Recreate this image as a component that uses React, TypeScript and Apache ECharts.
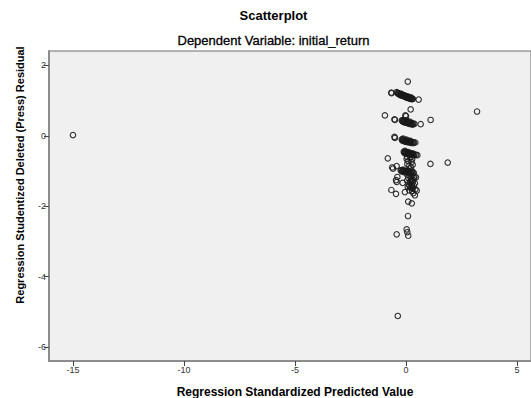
import React, { useEffect, useRef } from "react";
import * as echarts from "echarts";

const titleText = "Scatterplot";
const subtitleText = "Dependent Variable: initial_return";
const xAxisTitle = "Regression Standardized Predicted Value";
const yAxisTitle = "Regression Studentized Deleted (Press) Residual";

const xTicks = [-15, -10, -5, 0, 5];
const yTicks = [-6, -4, -2, 0, 2];

// [standardized predicted value, studentized deleted residual]
const topPoints: number[][] = [
  [0.08, 1.54], [-0.66, 1.23], [-0.65, 1.21], [0.57, 1.03],
  [-0.42, 1.24], [-0.38, 1.22], [-0.33, 1.21], [-0.29, 1.19], [-0.26, 1.18], [-0.22, 1.17],
  [-0.18, 1.16], [-0.15, 1.16], [-0.11, 1.14], [-0.08, 1.14], [-0.04, 1.12], [-0.01, 1.12],
  [0.03, 1.1], [0.06, 1.1], [0.1, 1.09], [0.13, 1.08], [0.17, 1.07], [0.2, 1.07],
  [0.24, 1.06], [0.28, 1.05], [0.31, 1.05],
  [-0.36, 1.2], [-0.31, 1.18], [-0.24, 1.15], [-0.17, 1.14], [-0.1, 1.12], [-0.02, 1.1],
  [0.05, 1.08], [0.12, 1.07], [0.19, 1.05], [0.26, 1.04], [-0.2, 1.19], [-0.06, 1.15],
  [0.08, 1.12], [0.22, 1.09],
];
const secondRow: number[][] = [
  [-0.95, 0.58], [-0.52, 0.47], [-0.5, 0.45], [-0.03, 0.58], [0.0, 0.56], [0.21, 0.75],
  [0.66, 0.33], [1.11, 0.45], [3.2, 0.69],
  [-0.19, 0.44], [-0.16, 0.43], [-0.12, 0.42], [-0.09, 0.42], [-0.05, 0.41], [-0.02, 0.4],
  [0.02, 0.4], [0.05, 0.39], [0.09, 0.38], [0.12, 0.38], [0.16, 0.37], [0.2, 0.36],
  [0.24, 0.36], [0.28, 0.35], [0.33, 0.35], [0.38, 0.34],
  [-0.14, 0.4], [-0.07, 0.38], [0.0, 0.37], [0.07, 0.36], [0.14, 0.34], [0.22, 0.33],
  [0.3, 0.32], [-0.1, 0.45], [0.04, 0.43], [0.18, 0.4],
];
const thirdRow: number[][] = [
  [-0.52, -0.03], [-0.5, -0.06],
  [-0.19, -0.1], [-0.15, -0.11], [-0.12, -0.12], [-0.08, -0.12], [-0.04, -0.13], [0.0, -0.14],
  [0.04, -0.15], [0.08, -0.15], [0.12, -0.16], [0.16, -0.16], [0.2, -0.17], [0.25, -0.18],
  [0.3, -0.18], [0.36, -0.19], [0.42, -0.19],
  [-0.16, -0.14], [-0.09, -0.15], [-0.02, -0.17], [0.06, -0.18], [0.14, -0.19], [0.22, -0.2],
  [0.32, -0.21], [-0.13, -0.08], [0.02, -0.11], [0.18, -0.14],
];
const fourthRow: number[][] = [
  [-0.1, -0.45], [-0.06, -0.46], [-0.02, -0.47], [0.02, -0.47], [0.06, -0.48], [0.1, -0.49],
  [0.14, -0.5], [0.18, -0.5], [0.22, -0.51], [0.27, -0.52], [0.32, -0.53], [0.38, -0.53],
  [0.45, -0.54], [0.51, -0.55],
  [-0.07, -0.49], [0.0, -0.5], [0.08, -0.52], [0.16, -0.53], [0.25, -0.55], [0.35, -0.56],
  [-0.04, -0.43], [0.12, -0.46], [0.3, -0.5],
  [-0.82, -0.64], [0.03, -0.66], [0.28, -0.66], [1.1, -0.8], [1.88, -0.76],
  [-0.62, -0.9], [-0.42, -0.86], [-0.58, -0.93],
  [0.05, -0.6], [0.2, -0.62], [0.1, -0.72], [0.25, -0.75], [0.06, -0.8], [0.3, -0.82],
  [0.15, -0.85], [0.22, -0.9],
];
const lowerRows: number[][] = [
  [-0.24, -0.98], [-0.2, -0.98], [-0.15, -0.99], [-0.11, -0.99], [-0.07, -1.0], [-0.03, -1.0],
  [0.01, -1.01], [0.05, -1.01], [0.09, -1.02], [0.14, -1.02], [0.19, -1.03], [0.24, -1.03],
  [0.3, -1.04], [0.35, -1.05],
  [-0.18, -1.02], [-0.09, -1.03], [0.0, -1.04], [0.11, -1.05], [0.21, -1.06], [-0.13, -0.96],
  [0.07, -0.98], [0.27, -1.0],
  [-0.39, -1.17], [0.45, -1.18], [-0.42, -1.31], [-0.15, -1.34], [-0.45, -1.26],
  [0.05, -1.1], [0.15, -1.12], [0.28, -1.14], [0.38, -1.16], [0.1, -1.2], [0.22, -1.22],
  [0.32, -1.25], [0.05, -1.27], [0.18, -1.3], [0.3, -1.32], [0.4, -1.35], [0.12, -1.38],
  [0.25, -1.4], [0.35, -1.42], [0.08, -1.45], [0.2, -1.47], [0.3, -1.5], [0.42, -1.52],
  [0.15, -1.55], [0.28, -1.57], [0.24, -1.28], [0.36, -1.2], [0.16, -1.42], [0.27, -1.46],
  [-0.66, -1.54], [-0.45, -1.65], [-0.05, -1.6], [0.33, -1.63], [0.48, -1.56], [0.4, -1.69],
  [0.1, -1.87], [0.26, -1.92], [0.09, -2.28], [-0.42, -2.8], [0.03, -2.66], [0.06, -2.74],
  [0.1, -2.84],
];
const outliers: number[][] = [
  [-0.37, -5.12], [-15.0, 0.02],
];

const allPoints = [...topPoints, ...secondRow, ...thirdRow, ...fourthRow, ...lowerRows, ...outliers];

const FONT = "'Liberation Sans', Arial, sans-serif";

export default function App() {
  const ref = useRef<HTMLDivElement>(null);
  useEffect(() => {
    if (!ref.current) return;
    const chart = echarts.init(ref.current, undefined, { renderer: "svg" });
    chart.setOption({
      animation: false,
      backgroundColor: "#ffffff",
      textStyle: { fontFamily: FONT },
      grid: {
        left: 49,
        top: 51,
        right: -2,
        bottom: 37,
        show: true,
        backgroundColor: "#f0f0f0",
        borderColor: "#6f6f6f",
        borderWidth: 1,
      },
      xAxis: {
        type: "value",
        min: -16.08,
        max: 5.63,
        axisLine: { show: true, onZero: false, lineStyle: { color: "#8c8c8c", width: 2 } },
        axisTick: { show: true, length: 5, customValues: xTicks, lineStyle: { color: "#444" } },
        axisLabel: { customValues: xTicks, fontSize: 9, color: "#333", margin: 4, fontFamily: FONT },
        splitLine: { show: false },
      },
      yAxis: {
        type: "value",
        min: -6.4,
        max: 2.41,
        axisLine: { show: true, onZero: false, lineStyle: { color: "#8c8c8c", width: 2 } },
        axisTick: { show: true, length: 5, customValues: yTicks, lineStyle: { color: "#444" } },
        axisLabel: { customValues: yTicks, fontSize: 9, color: "#333", margin: 3, fontFamily: FONT },
        splitLine: { show: false },
      },
      graphic: [
        {
          type: "text", x: 273.5, y: 15,
          style: { text: titleText, textAlign: "center", textVerticalAlign: "middle", font: `bold 13px ${FONT}`, fill: "#000" },
        },
        {
          type: "text", x: 273.5, y: 40.5,
          style: { text: subtitleText, textAlign: "center", textVerticalAlign: "middle", font: `13px ${FONT}`, fill: "#000", stroke: "#000", lineWidth: 0.3 },
        },
        {
          type: "text", x: 295, y: 392,
          style: { text: xAxisTitle, textAlign: "center", textVerticalAlign: "middle", font: `bold 12px ${FONT}`, fill: "#000" },
        },
        {
          type: "text", x: 20, y: 175, rotation: Math.PI / 2,
          style: { text: yAxisTitle, textAlign: "center", textVerticalAlign: "middle", font: `bold 11px ${FONT}`, fill: "#000" },
        },
      ],
      series: [
        {
          type: "scatter",
          data: allPoints,
          symbol: "circle",
          symbolSize: 5.5,
          itemStyle: { color: "rgba(0,0,0,0)", borderColor: "#1a1a1a", borderWidth: 1.1, opacity: 0.9 },
        },
      ],
    });
    return () => chart.dispose();
  }, []);
  return <div ref={ref} style={{ position: "fixed", left: 0, top: 0, width: 531, height: 398 }} />;
}
